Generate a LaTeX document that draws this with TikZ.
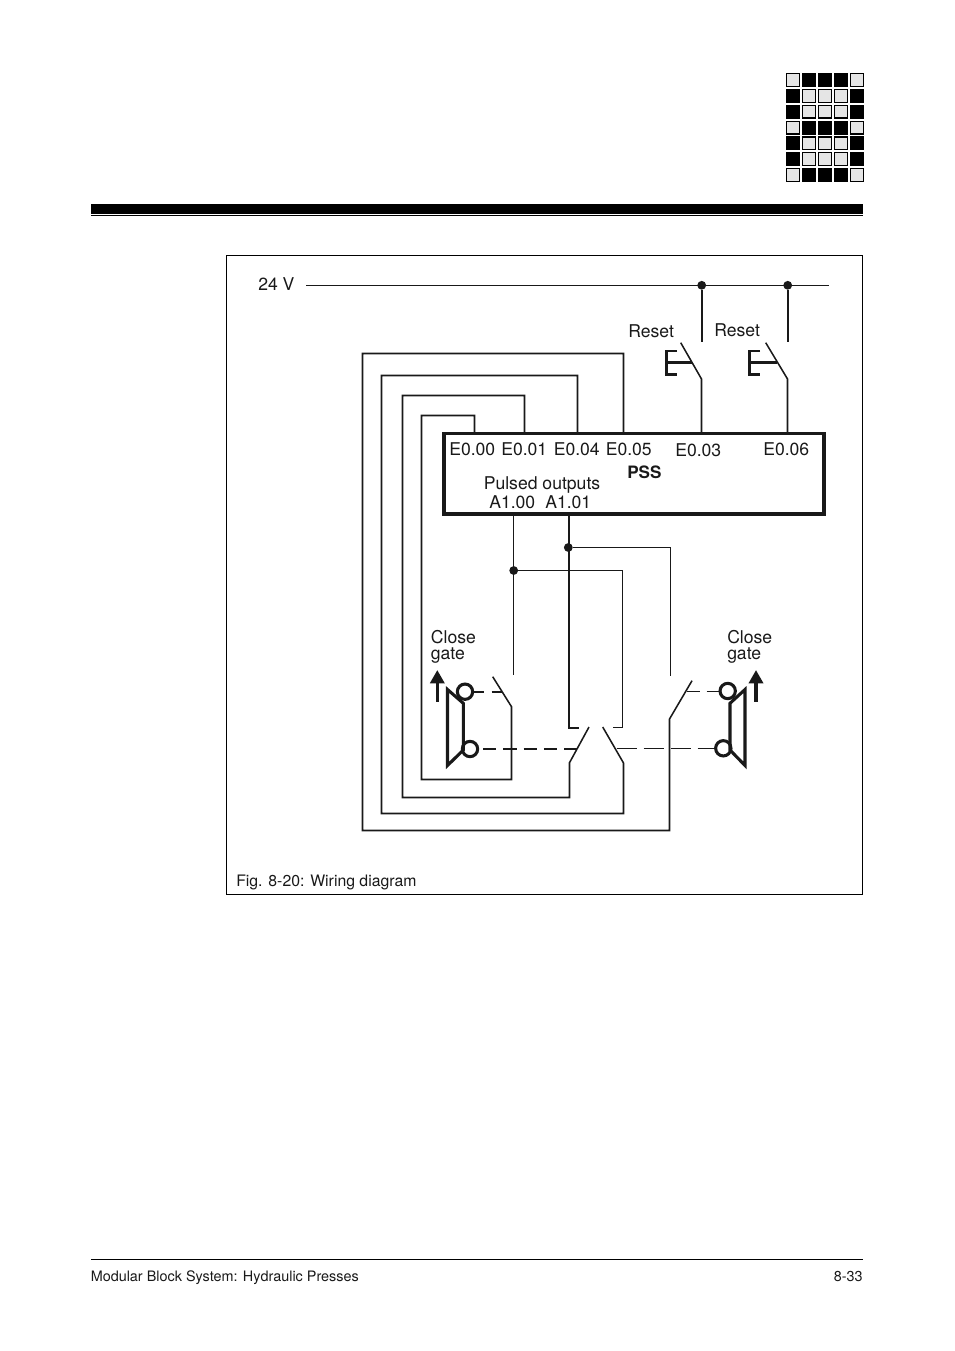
\documentclass[tikz,border=0pt]{standalone}
\usepackage{fontspec}
\setmainfont{TeX Gyre Heros}
\usetikzlibrary{arrows.meta}
\definecolor{lightsq}{gray}{0.9}
\definecolor{ink}{gray}{0.1}
\tikzset{
lbl/.style={inner sep=0, anchor=base west, text=ink, font=\fontsize{13.2}{12}\selectfont},
small/.style={lbl, font=\fontsize{11.85}{12}\selectfont},
foot/.style={lbl, font=\fontsize{10.8}{12}\selectfont},
wire/.style={draw=ink, line width=1.15pt},
heavy/.style={draw=ink, line width=1.3pt},
thin wire/.style={draw=ink, line width=0.75pt},
dot/.style={circle, fill=ink, inner sep=0, minimum size=6.6pt},
lamp/.style={circle, draw=ink, fill=white, line width=2.3pt, inner sep=0, minimum size=11.5pt},
plate/.style={draw=ink, line width=2.3pt, line join=miter},
ebar/.style={draw=ink, line width=1.9pt},
upar/.style={draw=ink, line width=2.6pt, -{Triangle[width=10.5pt,length=10pt]}},
}

\begin{document}
\begin{tikzpicture}[x=0.75pt, y=-0.75pt]
    \useasboundingbox (0,0) rectangle (954,1351);

    %logo
    \foreach \r/\pat in {0/0, 1/1, 2/1, 3/0, 4/1, 5/1, 6/0} {
        \pgfmathsetmacro{\ry}{73 + 15.85*\r}
        \foreach \c in {0,...,4} {
            \pgfmathtruncatemacro{\blk}{(\c==0 || \c==4) ? \pat : 1-\pat}
            \ifnum\blk=1
                \fill[black] (786+16*\c,\ry) rectangle ++(14,14);
            \else
                \draw[fill=lightsq, line width=0.9pt] (786.6+16*\c,\ry+0.6) rectangle ++(12.8,12.8);
            \fi
        }
    }

    %page rules and frame
    \fill[black] (91,204) rectangle (863,214);
    \draw[line width=0.75pt] (91,216) -- (863,216);
    \draw[line width=0.6pt] (91,1259.5) -- (863,1259.5);
    \draw[line width=0.6pt] (226,255.5) rectangle (862.5,894);

    %box and label
    \node[draw=ink, line width=2.7pt, minimum width=284.6pt, minimum height=60.4pt, inner sep=0] (pss) at (634,473.75) {};
    \node[lbl] (vlabel) at (258,290.5) {24 V};
    \node[lbl] (e00) at (449,455) {E0.00};
    \node[lbl] (e01) at (501,455) {E0.01};
    \node[lbl] (e04) at (553.5,455) {E0.04};
    \node[lbl] (e05) at (605.5,455) {E0.05};
    \node[lbl] (e03) at (675,456) {E0.03};
    \node[lbl] (e06) at (763,455) {E0.06};
    \node[lbl, font=\fontsize{12.8}{12}\bfseries] (psslabel) at (627,478.5) {PSS};
    \node[lbl] (pulsed) at (483.5,489.5) {Pulsed outputs};
    \node[lbl] (a100) at (489,508.5) {A1.00};
    \node[lbl] (a101) at (545,508.5) {A1.01};
    \node[lbl] (resetl) at (628,337.7) {Reset};
    \node[lbl] (resetr) at (714,336.7) {Reset};
    \node[lbl] (closel) at (430.7,643.7) {Close};
    \node[lbl] (gatel) at (430.7,659.7) {gate};
    \node[lbl] (closer) at (727,643.7) {Close};
    \node[lbl] (gater) at (727,659.7) {gate};
    \node[small] (caption) at (236,886) {Fig. 8-20: Wiring diagram};
    \node[foot] (title) at (90.5,1281) {Modular Block System: Hydraulic Presses};
    \node[foot, anchor=base east] (pageno) at (863,1281) {8-33};

    %terminals
    \coordinate (buswest) at (306,285.5);
    \coordinate (buseast) at (829,285.5);
    \coordinate (ta00) at (474.5,433);
    \coordinate (ta01) at (524.5,433);
    \coordinate (ta04) at (577.5,433);
    \coordinate (ta05) at (623.5,433);
    \coordinate (ta03) at (701.5,433);
    \coordinate (ta06) at (787.5,433);
    \coordinate (out0) at (513.5,515);
    \coordinate (out1) at (569,515);
    \node[dot] (busdot1) at (701.7,285.3) {};
    \node[dot] (busdot2) at (787.7,285.3) {};
    \node[dot] (outdot0) at (513.7,570.5) {};
    \node[dot] (outdot1) at (568.3,547.5) {};

    %supply and reset switches
    \draw[thin wire] (buswest) -- (buseast);
    \draw[heavy] (busdot1) -- (701.7,341.7);
    \draw[heavy] (busdot2) -- (787.7,341.7);
    \draw[wire] (ta03) -- (701.5,379) -- (680.7,342.7);
    \draw[wire] (ta06) -- (787.5,379) -- (765.7,342.7);
    \draw[ebar] (677,351) -- (666.5,351) -- (666.5,374.3) -- (677,374.3);
    \draw[ebar] (666.5,362.7) -- (691.7,362.7);
    \draw[ebar] (760,351) -- (749.5,351) -- (749.5,374.3) -- (760,374.3);
    \draw[ebar] (749.5,362.7) -- (776.7,362.7);

    %input loops
    \draw[wire] (ta05) -- (623.5,353.5) -- (362.5,353.5) -- (362.5,830.5) -- (669.5,830.5) -- (669.5,719) -- (692,680.7);
    \draw[wire] (ta04) -- (577.5,375.5) -- (381.5,375.5) -- (381.5,813.5) -- (623.5,813.5) -- (623.5,763) -- (602.7,727);
    \draw[wire] (ta01) -- (524.5,395.5) -- (402.5,395.5) -- (402.5,797.5) -- (569.5,797.5) -- (569.5,762.7) -- (589,727);
    \draw[wire] (ta00) -- (474.5,415.5) -- (421.5,415.5) -- (421.5,779.5) -- (511.5,779.5) -- (511.5,706.7) -- (492.7,676.7);

    %pulsed outputs
    \draw[thin wire] (out0) -- (513.5,675);
    \draw[heavy, line width=1.5pt] (out1) -- (569,727.7) -- (579,727.7);
    \draw[wire] (outdot0) -- (622.5,570.5) -- (622.5,727.5) -- (612.7,727.5);
    \draw[heavy] (outdot1) -- (670.5,547.5) -- (670.5,676);

    %gates
    \node[lamp] (lampa) at (465,691.7) {};
    \node[lamp] (lampb) at (470,749) {};
    \node[lamp] (lampc) at (727.7,691) {};
    \node[lamp] (lampd) at (723.3,748.3) {};
    \draw[plate] (447.5,689.5) -- (463.3,703.3) -- (463.3,750) -- (447.5,765.5) -- cycle;
    \draw[plate] (745,689.5) -- (730,703.3) -- (730,750) -- (745,765.5) -- cycle;
    \coordinate (armb) at (501.7,691.7);
    \coordinate (armc) at (686.7,691);
    \coordinate (armd) at (577,749);
    \coordinate (arme) at (616.7,748.3);
    \draw[heavy, line width=1.5pt, dash pattern=on 10pt off 5.2pt] (lampb) ++(13,0) -- (armd);
    \draw[heavy, line width=1.5pt, dash pattern=on 7.5pt off 5.5pt] (lampa.east) -- (armb);
    \draw[thin wire, dash pattern=on 10pt off 5pt] (armc) -- (lampc.west);
    \draw[thin wire, dash pattern=on 15pt off 5.2pt] (arme) -- (lampd.west);
    \coordinate (arrowlb) at (437.3,701.7);
    \coordinate (arrowlt) at (437.3,670);
    \coordinate (arrowrb) at (756,701.7);
    \coordinate (arrowrt) at (756,670);
    \draw[upar] (arrowlb) -- (arrowlt);
    \draw[upar] (arrowrb) -- (arrowrt);

\end{tikzpicture}
\end{document}
